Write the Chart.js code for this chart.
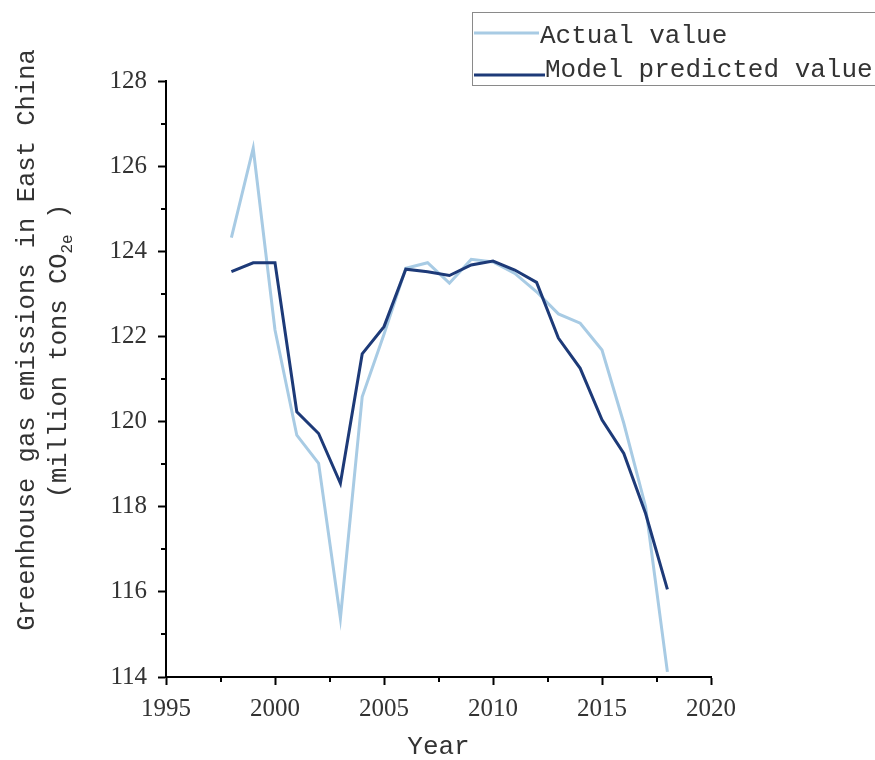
<!DOCTYPE html>
<html>
<head>
<meta charset="utf-8">
<script src="https://cdn.jsdelivr.net/npm/chart.js@4/dist/chart.umd.min.js"></script>
<style>
html,body{margin:0;padding:0;background:#fff;}
#wrap{width:875px;height:760px;}
</style>
</head>
<body>
<div id="wrap"><canvas id="c" width="875" height="760"></canvas></div>
<script>
const years = [1998,1999,2000,2001,2002,2003,2004,2005,2006,2007,2008,2009,2010,2011,2012,2013,2014,2015,2016,2017,2018];
const actualValues = [124.32,126.42,122.15,119.68,119.02,115.38,120.58,122.05,123.6,123.73,123.25,123.81,123.75,123.48,123.05,122.53,122.31,121.68,119.96,118.0,114.12];
const predictedValues = [123.52,123.73,123.73,120.23,119.72,118.55,121.59,122.23,123.58,123.52,123.43,123.68,123.77,123.56,123.27,121.96,121.25,120.04,119.25,117.84,116.06];
const seriesLabels = ['Actual value','Model predicted value'];
const yTicks = [114,116,118,120,122,124,126,128];
const xTicks = [1995,2000,2005,2010,2015,2020];
const yMinorTicks = [115,117,119,121,123,125,127];
const xMinorTicks = [1997.5,2002.5,2007.5,2012.5,2017.5];
const xTitle = 'Year';
const yTitleLine1 = 'Greenhouse gas emissions in East China';
const yTitleLine2 = ['(million tons CO','2e',' )'];

const MONO = '"Liberation Mono", monospace';

const toXY = (vals) => years.map((y,i) => ({x:y, y:vals[i]}));

const decor = {
  id:'decor',
  afterDraw(chart){
    const ctx = chart.ctx;
    const xs = chart.scales.x, ys = chart.scales.y;
    ctx.save();
    // minor ticks
    ctx.strokeStyle = '#000';
    ctx.lineWidth = 2;
    yMinorTicks.forEach(v=>{
      const p = Math.round(ys.getPixelForValue(v));
      ctx.beginPath(); ctx.moveTo(xs.left-5,p); ctx.lineTo(xs.left,p); ctx.stroke();
    });
    xMinorTicks.forEach(v=>{
      const p = Math.round(xs.getPixelForValue(v));
      ctx.beginPath(); ctx.moveTo(p,ys.bottom); ctx.lineTo(p,ys.bottom+5); ctx.stroke();
    });
    // x title
    ctx.fillStyle = '#333';
    ctx.font = '26px ' + MONO;
    ctx.textAlign = 'center';
    ctx.textBaseline = 'alphabetic';
    ctx.fillText(xTitle, (xs.left+xs.right)/2, 754);
    // y title line 1
    ctx.save();
    ctx.translate(34, 340);
    ctx.rotate(-Math.PI/2);
    ctx.font = '25.5px ' + MONO;
    ctx.textAlign = 'center';
    ctx.fillText(yTitleLine1, 0, 0);
    ctx.restore();
    // y title line 2 with subscript
    ctx.save();
    ctx.translate(66, 351);
    ctx.rotate(-Math.PI/2);
    ctx.textAlign = 'left';
    const mainFont = '25.5px ' + MONO, subFont = '16px ' + MONO;
    ctx.font = mainFont; const w0 = ctx.measureText(yTitleLine2[0]).width;
    ctx.font = subFont; const w1 = ctx.measureText(yTitleLine2[1]).width;
    ctx.font = mainFont; const w2 = ctx.measureText(yTitleLine2[2]).width;
    let x0 = -(w0+w1+w2)/2;
    ctx.font = mainFont; ctx.fillText(yTitleLine2[0], x0, 0); x0 += w0;
    ctx.font = subFont; ctx.fillText(yTitleLine2[1], x0, 6); x0 += w1;
    ctx.font = mainFont; ctx.fillText(yTitleLine2[2], x0, 0);
    ctx.restore();
    // legend
    ctx.strokeStyle = '#8a8a8a';
    ctx.lineWidth = 1;
    ctx.strokeRect(472.5, 12.5, 420, 73);
    const ds = chart.data.datasets;
    const rows = [{y:33, ty:43, tx:540, lx1:539}, {y:75, ty:77, tx:545, lx1:545}];
    ds.forEach((d,i)=>{
      const r = rows[i];
      ctx.strokeStyle = d.borderColor;
      ctx.lineWidth = d.borderWidth;
      ctx.beginPath(); ctx.moveTo(474, r.y); ctx.lineTo(r.lx1, r.y); ctx.stroke();
      ctx.fillStyle = '#333';
      ctx.font = '26px ' + MONO;
      ctx.textAlign = 'left';
      ctx.textBaseline = 'alphabetic';
      ctx.fillText(d.label, r.tx, r.ty);
    });
    ctx.restore();
  }
};

new Chart(document.getElementById('c'), {
  type:'line',
  data:{
    datasets:[
      {label:seriesLabels[0], data:toXY(actualValues), borderColor:'#a8cbe4', borderWidth:3, pointRadius:0, tension:0, fill:false, order:1},
      {label:seriesLabels[1], data:toXY(predictedValues), borderColor:'#1d3a78', borderWidth:3, pointRadius:0, tension:0, fill:false, order:0}
    ]
  },
  options:{
    responsive:false,
    animation:false,
    devicePixelRatio:1,
    layout:{padding:{left:0, top:81, right:164, bottom:0}},
    plugins:{legend:{display:false}, tooltip:{enabled:false}, title:{display:false}},
    scales:{
      x:{
        type:'linear', min:1995, max:2020,
        afterBuildTicks(s){ s.ticks = xTicks.map(v=>({value:v})); },
        afterFit(s){ s.height = 83; },
        grid:{drawOnChartArea:false, drawTicks:true, tickLength:8, tickColor:'#000', tickWidth:2},
        border:{display:true, color:'#000', width:2},
        ticks:{color:'#333', font:{family:'Liberation Serif', size:25}, padding:9, maxRotation:0, autoSkip:false,
          callback:(v)=>String(v)}
      },
      y:{
        type:'linear', min:114, max:128,
        afterBuildTicks(s){ s.ticks = yTicks.map(v=>({value:v})); },
        afterFit(s){ s.width = 166; },
        grid:{drawOnChartArea:false, drawTicks:true, tickLength:8, tickColor:'#000', tickWidth:2},
        border:{display:true, color:'#000', width:2},
        ticks:{color:'#333', font:{family:'Liberation Serif', size:25}, padding:11, autoSkip:false,
          callback:(v)=>String(v)}
      }
    }
  },
  plugins:[decor]
});
</script>
</body>
</html>
